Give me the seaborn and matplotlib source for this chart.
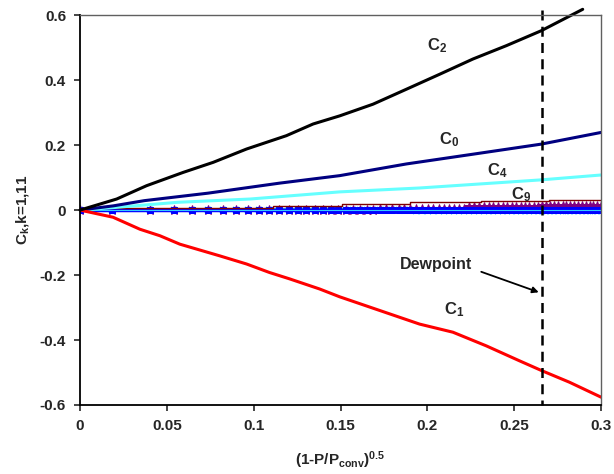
import matplotlib
matplotlib.use("Agg")
import matplotlib.pyplot as plt
import seaborn as sns

# x grid of the simulation points
x_grid = [0.0, 0.0186, 0.0403, 0.0539, 0.0647, 0.0739, 0.0821, 0.0896, 0.0965, 0.1029,
          0.1089, 0.1147, 0.1201, 0.1253, 0.1303, 0.1352, 0.1398, 0.1443, 0.1487, 0.1529,
          0.1571, 0.1611, 0.1650, 0.1688, 0.1726, 0.1763, 0.1799, 0.1834, 0.1868, 0.1902,
          0.1936, 0.1968, 0.2001, 0.2032, 0.2064, 0.2094, 0.2125, 0.2155, 0.2184, 0.2213,
          0.2242, 0.2270, 0.2298, 0.2326, 0.2353, 0.2380, 0.2407, 0.2434, 0.2460, 0.2486,
          0.2511, 0.2537, 0.2562, 0.2587, 0.2611, 0.2636, 0.2660, 0.2684, 0.2708, 0.2731,
          0.2754, 0.2778, 0.2800, 0.2823, 0.2846, 0.2868, 0.2890, 0.2912, 0.2934, 0.2956,
          0.2978, 0.2999]

# main coefficients
c2_x = [0, 0.0211, 0.0383, 0.0594, 0.0767, 0.0959, 0.1188, 0.1342, 0.1495, 0.1687,
        0.1879, 0.207, 0.2262, 0.2454, 0.2655, 0.2894]
c2_y = [0, 0.034, 0.075, 0.116, 0.147, 0.188, 0.229, 0.265, 0.290, 0.326,
        0.372, 0.418, 0.465, 0.506, 0.552, 0.618]

c0_x = [0, 0.0192, 0.037, 0.0736, 0.115, 0.1495, 0.1879, 0.2262, 0.2655, 0.30]
c0_y = [0, 0.013, 0.029, 0.052, 0.083, 0.106, 0.142, 0.172, 0.203, 0.239]

c4_x = [0, 0.02, 0.0564, 0.0978, 0.1495, 0.1955, 0.2655, 0.30]
c4_y = [0, 0.008, 0.024, 0.034, 0.056, 0.068, 0.093, 0.108]

c1_x = [0, 0.019, 0.0345, 0.046, 0.0575, 0.0805, 0.0959, 0.109, 0.1208, 0.138,
        0.1495, 0.1955, 0.2147, 0.2339, 0.253, 0.2657, 0.2818, 0.30]
c1_y = [0, -0.022, -0.059, -0.079, -0.105, -0.141, -0.166, -0.192, -0.212, -0.243,
        -0.267, -0.351, -0.376, -0.418, -0.464, -0.494, -0.530, -0.576]

c9_x = [0, 0.111, 0.151, 0.19, 0.231, 0.27, 0.30]
c9_y = [0.005, 0.013, 0.02, 0.025, 0.029, 0.032, 0.032]

# the small coefficients that stay near zero (72 points each)
c3_y = [0.0] * 72
c5_y = [0.0] * 24 + [0.004] * 16 + [0.008] * 16 + [0.012] * 16
c6_y = [0.0] * 30 + [-0.003] * 42
c7_y = [0.0] * 20 + [0.003] * 52

dewpoint_x = 0.2657

sns.set_style("ticks")
plt.rcParams['font.family'] = ['Liberation Sans', 'DejaVu Sans']
plt.rcParams['font.weight'] = 'bold'
plt.rcParams['mathtext.default'] = 'regular'

fig = plt.figure(figsize=(6.14, 4.74), dpi=100)
ax = fig.add_axes([0.1303, 0.1456, 0.8487, 0.8224])

# near zero band
sns.lineplot(x=x_grid, y=c7_y, ax=ax, color="#008080", lw=1.5, estimator=None, sort=False)
sns.lineplot(x=x_grid, y=c5_y, ax=ax, color="#800080", lw=2, marker="*", markersize=7,
             markeredgecolor="#800080", estimator=None, sort=False)
sns.lineplot(x=x_grid, y=c6_y, ax=ax, color="#00FFFF", lw=2.5, marker="x", markersize=5,
             markeredgecolor="#33CCFF", markeredgewidth=1.2, estimator=None, sort=False)
sns.lineplot(x=x_grid, y=c3_y, ax=ax, color="#0000FF", lw=2.5, marker="s", markersize=4.5,
             markeredgecolor="#0000FF", estimator=None, sort=False)
sns.lineplot(x=x_grid, y=c3_y, ax=ax, color="#33CCFF", lw=0.8, estimator=None, sort=False)
sns.lineplot(x=c9_x, y=c9_y, ax=ax, color="#800000", lw=1, drawstyle="steps-post",
             estimator=None, sort=False)

# main curves
sns.lineplot(x=c4_x, y=c4_y, ax=ax, color="#66FFFF", lw=2.2, estimator=None, sort=False)
sns.lineplot(x=c0_x, y=c0_y, ax=ax, color="#000080", lw=2.2, estimator=None, sort=False)
sns.lineplot(x=c1_x, y=c1_y, ax=ax, color="#FF0000", lw=2.2, estimator=None, sort=False)
sns.lineplot(x=c2_x, y=c2_y, ax=ax, color="black", lw=2.2, estimator=None, sort=False,
             clip_on=False)

# dewpoint
ax.plot([dewpoint_x, dewpoint_x], [0.615, -0.6], color="black", lw=1.8,
        ls=(0, (4, 2.5)), clip_on=False)

ax.set_xlim(0, 0.3)
ax.set_ylim(-0.6, 0.6)
ax.set_xticks([0, 0.05, 0.1, 0.15, 0.2, 0.25, 0.3])
ax.set_xticklabels(["0", "0.05", "0.1", "0.15", "0.2", "0.25", "0.3"])
ax.set_yticks([-0.6, -0.4, -0.2, 0, 0.2, 0.4, 0.6])
ax.set_yticklabels(["-0.6", "-0.4", "-0.2", "0", "0.2", "0.4", "0.6"])
ax.tick_params(direction="out", length=4, width=1.2, labelsize=11, pad=6)

for side in ["left", "bottom"]:
    ax.spines[side].set_color("black")
    ax.spines[side].set_linewidth(1.3)
for side in ["top", "right"]:
    ax.spines[side].set_visible(True)
    ax.spines[side].set_color("#606060")
    ax.spines[side].set_linewidth(1.0)

ax.set_xlabel("(1-P/P$_{conv}$)$^{0.5}$", fontsize=11, fontweight="bold", labelpad=12)
ax.set_ylabel("C$_k$,k=1,11", fontsize=11, fontweight="bold", labelpad=6)

lab = dict(fontsize=12, fontweight="bold", ha="center", va="center")
ax.text(0.2053, 0.506, "C$_2$", **lab)
ax.text(0.2126, 0.218, "C$_0$", **lab)
ax.text(0.240, 0.121, "C$_4$", **lab)
ax.text(0.254, 0.046, "C$_9$", **lab)
ax.text(0.2156, -0.305, "C$_1$", **lab)
ax.text(0.2047, -0.168, "Dewpoint", fontsize=11.5, fontweight="bold", ha="center", va="center")
ax.annotate("", xy=(0.2641, -0.253), xytext=(0.231, -0.19),
            arrowprops=dict(arrowstyle="-|>", color="black", lw=1.3,
                            mutation_scale=9, shrinkA=0, shrinkB=0))

fig.savefig("out.png", dpi=100)
